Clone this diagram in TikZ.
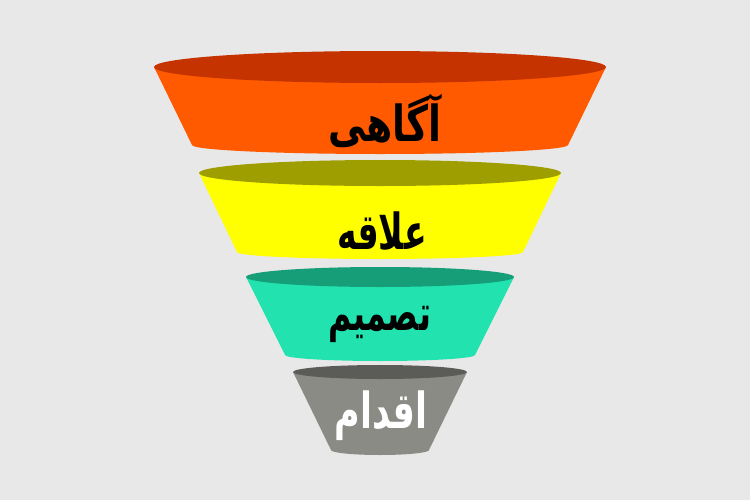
\documentclass[tikz,border=0pt]{standalone}
\usepackage{fontspec}
\TeXXeTstate=1
\newfontfamily\arabicfont[Script=Arabic]{DejaVu Sans}
\definecolor{bgc}{HTML}{E8E8E8}
\definecolor{orBody}{HTML}{FF5A00}
\definecolor{orTop}{HTML}{C53300}
\definecolor{yeBody}{HTML}{FFFF00}
\definecolor{yeTop}{HTML}{9E9E00}
\definecolor{teBody}{HTML}{22E3B0}
\definecolor{teTop}{HTML}{159E78}
\definecolor{grBody}{HTML}{8B8B86}
\definecolor{grTop}{HTML}{5B5B58}
\tikzset{
  lbl/.style={font=\arabicfont\bfseries\fontsize{27}{30}\selectfont, inner sep=0pt},
}
\newcommand\artxt[2][1]{\scalebox{#1}[1.38]{\beginR #2\endR}}
% #1 body colour, #2 top colour, #3 cx, #4 top cy, #5 top rx, #6 top ry, #7 bottom cy, #8 bottom rx, #9 bottom ry
\newcommand\funnelseg[9]{%
  \fill[#1] (#3-#5,#4) -- (#3-#8,#7) arc[start angle=180,end angle=0,x radius=#8,y radius=#9] -- (#3+#5,#4) -- cycle;
  \fill[#2] (#3,#4) ellipse[x radius=#5,y radius=#6];
}
\begin{document}
\begin{tikzpicture}[x=0.75pt,y=-0.75pt]
\fill[bgc] (0,0) rectangle (750,500);
\useasboundingbox (0,0) rectangle (750,500);
\funnelseg{orBody}{orTop}{380}{67}{226}{16}{145}{188}{9}
\funnelseg{yeBody}{yeTop}{380}{173}{181}{13}{252}{143}{7}
\funnelseg{teBody}{teTop}{380}{277}{134}{10}{355}{95}{6}
\funnelseg{grBody}{grTop}{380}{372}{87}{7}{450}{49}{5}
\node[lbl] (t1) at (385,121) {\artxt[1.05]{آگاهی}};
\node[lbl] (t2) at (382,231) {\artxt[0.92]{علاقه}};
\node[lbl] (t3) at (380,324) {\artxt[0.88]{تصمیم}};
\node[lbl,text=white] (t4) at (381,416) {\artxt[0.97]{اقدام}};
\end{tikzpicture}
\end{document}
